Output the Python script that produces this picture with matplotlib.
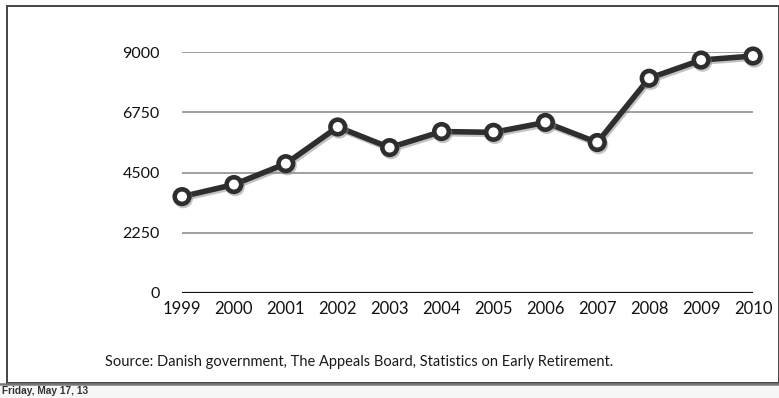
import matplotlib
matplotlib.use("Agg")
import matplotlib.pyplot as plt
import matplotlib.patheffects as pe
from matplotlib.patches import Rectangle
from matplotlib.lines import Line2D

# data
years = [1999, 2000, 2001, 2002, 2003, 2004, 2005, 2006, 2007, 2008, 2009, 2010]
cases = [3600, 4050, 4830, 6200, 5430, 6030, 6000, 6370, 5620, 8020, 8700, 8850]
yticks = [0, 2250, 4500, 6750, 9000]
source = "Source: Danish government, The Appeals Board, Statistics on Early Retirement."
footer = "Friday, May 17, 13"

W, H = 779, 398
fig = plt.figure(figsize=(W / 100, H / 100), dpi=100)
font = ["Lato", "DejaVu Sans"]

# frame around the slide and footer strip
fig.patches.append(Rectangle((7 / W, 1 - 383 / H), 772 / W, 377 / H, transform=fig.transFigure,
                             fill=False, edgecolor="#444444", linewidth=1.4))
fig.patches.append(Rectangle((0, 0), 1, 1 - 383 / H, transform=fig.transFigure,
                             facecolor="#f7f7f7", edgecolor="none", zorder=-1))
fig.lines.append(Line2D([0, 1], [1 - 384 / H] * 2, transform=fig.transFigure,
                        color="#777777", linewidth=1.8))

ax = fig.add_axes([182 / W, 1 - 293 / H, 571 / W, 241 / H])
ax.set_xlim(1999, 2010)
ax.set_ylim(0, 9000)

for v in yticks[1:]:
    ax.axhline(v, color="#999999", linewidth=1.3, zorder=1)
ax.axhline(0, color="#111111", linewidth=1.6, zorder=1)

ax.plot(years, cases, color="#2e2e2e", linewidth=4, marker="o", markersize=10.5,
        markerfacecolor="white", markeredgecolor="#2e2e2e", markeredgewidth=3.3,
        clip_on=False, zorder=3,
        path_effects=[pe.SimpleLineShadow(offset=(1, -1.5), shadow_color="#888888", alpha=0.5),
                      pe.Normal()])

for s in ax.spines.values():
    s.set_visible(False)
ax.set_xticks(years)
ax.set_xticklabels([str(y) for y in years], fontsize=12, family=font, color="#111111")
ax.set_yticks(yticks)
ax.set_yticklabels([str(v) for v in yticks], fontsize=11.5, family=font, color="#111111")
ax.tick_params(axis="both", length=0)
ax.tick_params(axis="x", pad=6)
ax.tick_params(axis="y", pad=16)

fig.text(105 / W, 1 - 362 / H, source, fontsize=10.5, family=font, color="#1a1a1a", va="center")
fig.text(2 / W, 1 - 391 / H, footer, fontsize=7.3, family=["Liberation Sans", "DejaVu Sans"],
         weight="bold", color="#333333", va="center")

fig.savefig("out.png", dpi=100)
